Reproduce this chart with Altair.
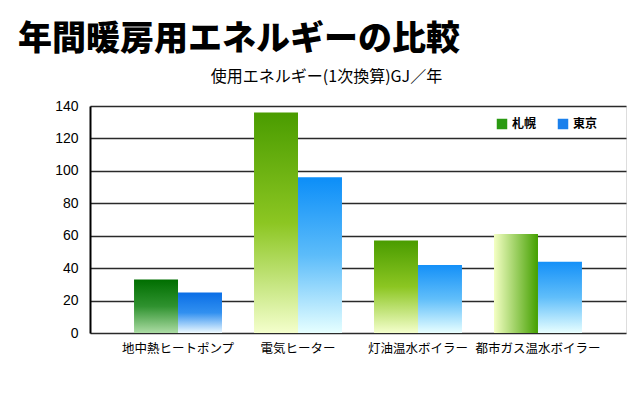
import altair as alt
import pandas as pd

categories = ["地中熱ヒートポンプ", "電気ヒーター", "灯油温水ボイラー", "都市ガス温水ボイラー"]
series = ["札幌", "東京"]
sapporo = [33, 136, 57, 61]
tokyo = [25, 96, 42, 44]

rows = []
for c, s_val, t_val in zip(categories, sapporo, tokyo):
    rows.append({"category": c, "series": series[0], "value": s_val})
    rows.append({"category": c, "series": series[1], "value": t_val})
df = pd.DataFrame(rows)

JP = "Noto Sans CJK JP"


def vgrad(top, mid, bottom):
    return alt.Gradient(
        gradient="linear", x1=0, x2=0, y1=0, y2=1,
        stops=[alt.GradientStop(color=top, offset=0),
               alt.GradientStop(color=mid, offset=0.5),
               alt.GradientStop(color=bottom, offset=1)])


def hgrad(left, right):
    return alt.Gradient(
        gradient="linear", x1=0, x2=1, y1=0, y2=0,
        stops=[alt.GradientStop(color=left, offset=0),
               alt.GradientStop(color=right, offset=1)])


fills = {
    (categories[0], series[0]): vgrad("#006e00", "#2f922f", "#acdca4"),
    (categories[0], series[1]): vgrad("#0a6ee6", "#3190f0", "#eefaff"),
    (categories[1], series[0]): vgrad("#4a9c00", "#8cc622", "#f4ffcc"),
    (categories[1], series[1]): vgrad("#0c8ef8", "#5cbcfa", "#e6ffff"),
    (categories[2], series[0]): vgrad("#4a9c00", "#8cc622", "#f4ffcc"),
    (categories[2], series[1]): vgrad("#1490f8", "#60befa", "#e8ffff"),
    (categories[3], series[0]): hgrad("#f4ffc4", "#44a000"),
    (categories[3], series[1]): vgrad("#1490f8", "#60befa", "#e8ffff"),
}

x_enc = alt.X("category:N", sort=categories,
              scale=alt.Scale(domain=categories, paddingInner=0.267, paddingOuter=0.367),
              axis=alt.Axis(title=None, labelAngle=0, ticks=False, domain=False,
                            labelFont=JP, labelFontSize=12.5, labelColor="#000",
                            labelPadding=9))
xo_enc = alt.XOffset("series:N", scale=alt.Scale(domain=series, paddingInner=0, paddingOuter=0))
y_enc = alt.Y("value:Q",
              scale=alt.Scale(domain=[0, 140], nice=False),
              axis=alt.Axis(values=list(range(0, 141, 20)), ticks=False,
                            grid=True, gridColor="#2a2a2a", gridWidth=1.3,
                            domainColor="#000", domainWidth=2,
                            labelFont="Liberation Sans", labelFontSize=14,
                            labelColor="#000", labelPadding=12,
                            title="使用エネルギー(1次換算)GJ／年",
                            titleAngle=0, titleX=236, titleY=-30,
                            titleAlign="center", titleBaseline="middle",
                            titleFont=JP, titleFontSize=16, titleFontWeight="normal",
                            titleColor="#000"))

base = alt.Chart(df)
layers = []
for (c, s), g in fills.items():
    layers.append(
        base.transform_filter(
            (alt.datum.category == c) & (alt.datum.series == s)
        ).mark_bar(color=g).encode(x=x_enc, xOffset=xo_enc, y=y_enc)
    )

legend_layer = base.mark_point(shape="square", filled=True, opacity=0).encode(
    x=x_enc, xOffset=xo_enc, y=y_enc,
    color=alt.Color("series:N",
                    scale=alt.Scale(domain=series, range=["#2a9a12", "#1a80ec"]),
                    legend=alt.Legend(title=None, orient="none", direction="horizontal",
                                      legendX=406, legendY=12, symbolType="square",
                                      symbolSize=110, symbolOpacity=1,
                                      symbolStrokeWidth=0, columnPadding=20,
                                      labelFont=JP, labelFontSize=12,
                                      labelColor="#000", labelFontWeight="bold")))

chart = alt.layer(*layers, legend_layer).properties(
    width=536, height=227,
    autosize=alt.AutoSizeParams(type="none"),
    padding={"left": 82, "top": 98, "right": 6, "bottom": 50},
    title=alt.TitleParams("年間暖房用エネルギーの比較", anchor="start", frame="group",
                          dx=-72, font=JP, fontSize=34, fontWeight=900,
                          color="#000", offset=11),
).configure_view(stroke="#000", strokeWidth=2).configure(background="white")

chart.save("out.html", embed_options={"renderer": "svg", "actions": False})
